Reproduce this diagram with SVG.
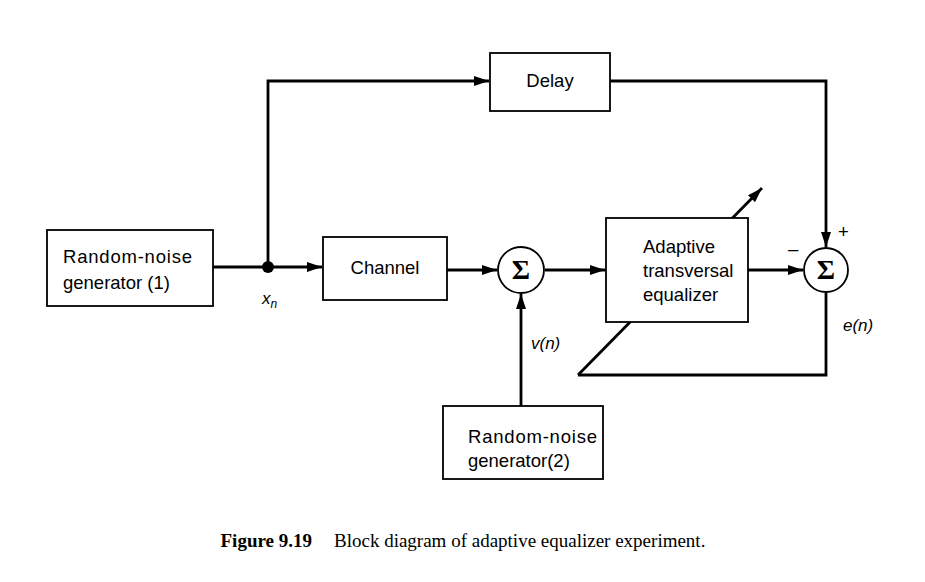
<svg xmlns="http://www.w3.org/2000/svg" width="925" height="582" viewBox="0 0 925 582">
  <style>
    .box { fill: #fff; stroke: #000; stroke-width: 1.8; }
    .sum { fill: #fff; stroke: #000; stroke-width: 1.8; }
    .wire { fill: none; stroke: #000; stroke-width: 2.8; }
    .lbl { font-family: "Liberation Sans", Arial, sans-serif; font-size: 18.5px; fill: #000; }
    .ital { font-family: "Liberation Sans", Arial, sans-serif; font-size: 17px; font-style: italic; fill: #000; }
    .sigma { font-family: "Liberation Serif", "Times New Roman", serif; font-size: 28px; font-weight: bold; fill: #000; text-anchor: middle; }
    .cap { font-family: "Liberation Serif", "Times New Roman", serif; font-size: 19px; fill: #000; }
  </style>
  <defs>
    <marker id="arrow" viewBox="0 0 15 10" refX="15" refY="5" markerWidth="15" markerHeight="10" markerUnits="userSpaceOnUse" orient="auto">
      <path d="M0,0 L15,5 L0,10 Z" fill="#000"/>
    </marker>
  </defs>
  <rect width="925" height="582" fill="#fff"/>

  <!-- connectors -->
  <g id="connectors">
    <!-- adaptation arrow passes behind the equalizer box -->
    <path class="wire" d="M578,375 L762,188" marker-end="url(#arrow)"/>
    <path class="wire" d="M213,267 L268,267"/>
    <path class="wire" d="M268,267 L322,267" marker-end="url(#arrow)"/>
    <path class="wire" d="M268,267 L268,81 L489,81" marker-end="url(#arrow)"/>
    <path class="wire" d="M610,81 L826,81 L826,247" marker-end="url(#arrow)"/>
    <path class="wire" d="M447,270 L497,270" marker-end="url(#arrow)"/>
    <path class="wire" d="M545,270 L605,270" marker-end="url(#arrow)"/>
    <path class="wire" d="M748,270 L803,270" marker-end="url(#arrow)"/>
    <path class="wire" d="M521,406 L521,294" marker-end="url(#arrow)"/>
    <path class="wire" d="M826,293 L826,375 L578,375"/>
    <circle cx="268" cy="267" r="6" fill="#000"/>
    <text class="ital" x="262" y="304">x<tspan font-size="12" dy="4">n</tspan></text>
    <text class="ital" x="531" y="349">v(n)</text>
    <text class="ital" x="843" y="331">e(n)</text>
    <text class="lbl" x="838" y="238" font-size="16">+</text>
    <text class="lbl" x="788" y="255">–</text>
  </g>

  <g id="rng1">
    <rect class="box" x="47" y="230" width="166" height="76"/>
    <text class="lbl" x="63" y="263" textLength="129">Random-noise</text>
    <text class="lbl" x="63" y="289">generator (1)</text>
  </g>

  <g id="delay">
    <rect class="box" x="490" y="53" width="120" height="58"/>
    <text class="lbl" x="550" y="87" text-anchor="middle">Delay</text>
  </g>

  <g id="channel">
    <rect class="box" x="323" y="237" width="124" height="63"/>
    <text class="lbl" x="385" y="274" text-anchor="middle">Channel</text>
  </g>

  <g id="sum1">
    <circle class="sum" cx="521" cy="270" r="23"/>
    <text class="sigma" x="521" y="279">Σ</text>
  </g>

  <g id="equalizer">
    <rect class="box" x="606" y="218" width="142" height="104"/>
    <text class="lbl" x="643" y="253">Adaptive</text>
    <text class="lbl" x="643" y="277">transversal</text>
    <text class="lbl" x="643" y="301">equalizer</text>
  </g>

  <g id="sum2">
    <circle class="sum" cx="826" cy="270" r="22"/>
    <text class="sigma" x="826" y="279">Σ</text>
  </g>

  <g id="rng2">
    <rect class="box" x="443" y="406" width="160" height="73"/>
    <text class="lbl" x="468" y="443" textLength="129">Random-noise</text>
    <text class="lbl" x="468" y="467">generator(2)</text>
  </g>

  <text class="cap" x="312" y="547" text-anchor="end" font-weight="bold">Figure 9.19</text>
  <text class="cap" x="334" y="547">Block diagram of adaptive equalizer experiment.</text>
</svg>
